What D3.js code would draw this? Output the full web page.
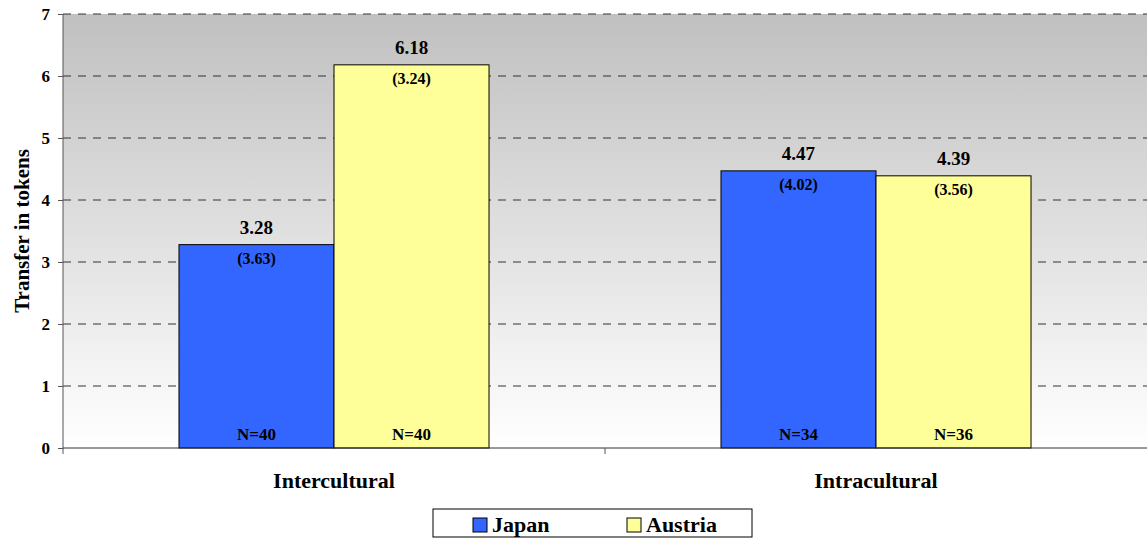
<!DOCTYPE html>
<html>
<head>
<meta charset="utf-8">
<script src="https://cdn.jsdelivr.net/npm/d3@7"></script>
<style>
  body { margin: 0; background: #fff; }
  text { font-family: "Liberation Serif", "Times New Roman", serif; font-weight: bold; fill: #000; }
</style>
</head>
<body>
<svg id="chart" width="1147" height="541"></svg>
<script>
// data
const categories = ["Intercultural", "Intracultural"];
const seriesNames = ["Japan", "Austria"];
const means = { Japan: [3.28, 4.47], Austria: [6.18, 4.39] };
const stdDevs = { Japan: [3.63, 4.02], Austria: [3.24, 3.56] };
const counts = { Japan: [40, 34], Austria: [40, 36] };
const yTicks = [0, 1, 2, 3, 4, 5, 6, 7];
const colors = { Japan: "#3366ff", Austria: "#ffff99" };

const margin = { top: 14, right: 0, bottom: 93, left: 63 };
const W = 1147, H = 541;
const width = W - margin.left - margin.right;
const height = H - margin.top - margin.bottom;

const svg = d3.select("#chart");

// background gradient
const defs = svg.append("defs");
const grad = defs.append("linearGradient").attr("id", "bg")
  .attr("x1", 0).attr("y1", 0).attr("x2", 0).attr("y2", 1);
grad.append("stop").attr("offset", "0%").attr("stop-color", "#c0c0c0");
grad.append("stop").attr("offset", "100%").attr("stop-color", "#ffffff");

const chart = svg.append("g").attr("transform", `translate(${margin.left},${margin.top})`);

chart.append("rect").attr("width", width).attr("height", height).attr("fill", "url(#bg)");

const y = d3.scaleLinear().domain([0, 7]).range([height, 0]);
const x0 = d3.scaleBand().domain(categories).range([0, width]).paddingInner(0).paddingOuter(0);
const groupW = x0.bandwidth() * 0.572;
const x1 = d3.scaleBand().domain(seriesNames)
  .range([(x0.bandwidth() - groupW) / 2, (x0.bandwidth() + groupW) / 2]);

// gridlines
chart.append("g").selectAll("line").data(yTicks.filter(d => d > 0)).join("line")
  .attr("x1", 0).attr("x2", width)
  .attr("y1", d => y(d)).attr("y2", d => y(d))
  .attr("stroke", "#333").attr("stroke-width", 1).attr("stroke-dasharray", "8,7");

// rows of bars
const rows = [];
categories.forEach((c, i) => {
  seriesNames.forEach(s => {
    rows.push({ cat: c, series: s, mean: means[s][i], sd: stdDevs[s][i], n: counts[s][i] });
  });
});

const bars = chart.append("g");
bars.selectAll("rect").data(rows).join("rect")
  .attr("x", d => x0(d.cat) + x1(d.series))
  .attr("y", d => y(d.mean))
  .attr("width", x1.bandwidth())
  .attr("height", d => height - y(d.mean))
  .attr("fill", d => colors[d.series])
  .attr("stroke", "#000").attr("stroke-width", 1);

const cx = d => x0(d.cat) + x1(d.series) + x1.bandwidth() / 2;

bars.selectAll(".mean").data(rows).join("text")
  .attr("class", "mean")
  .attr("x", cx).attr("y", d => y(d.mean) - 11)
  .attr("text-anchor", "middle").attr("font-size", 19)
  .text(d => d.mean.toFixed(2));

bars.selectAll(".sd").data(rows).join("text")
  .attr("class", "sd")
  .attr("x", cx).attr("y", d => y(d.mean) + 19)
  .attr("text-anchor", "middle").attr("font-size", 16)
  .text(d => `(${d.sd.toFixed(2)})`);

bars.selectAll(".n").data(rows).join("text")
  .attr("class", "n")
  .attr("x", cx).attr("y", height - 8)
  .attr("text-anchor", "middle").attr("font-size", 17)
  .text(d => `N=${d.n}`);

// axes
const yAxis = chart.append("g")
  .call(d3.axisLeft(y).tickValues(yTicks).tickFormat(d3.format("d")).tickSize(5).tickPadding(8));
yAxis.select(".domain").attr("stroke", "#555").attr("d", `M0,${height + 6}V0`);
yAxis.selectAll(".tick line").attr("stroke", "#555");
yAxis.selectAll(".tick text").attr("font-size", 17).attr("font-family", null);

const xAxis = chart.append("g").attr("transform", `translate(0,${height})`)
  .call(d3.axisBottom(x0).tickSize(0).tickPadding(24));
xAxis.select(".domain").attr("stroke", "#333").attr("d", `M0,0H${width}`);
xAxis.selectAll(".tick text").attr("font-size", 22).attr("font-family", null);
xAxis.append("line").attr("x1", width / 2).attr("x2", width / 2).attr("y1", 0).attr("y2", 6).attr("stroke", "#555");

// y title
svg.append("text")
  .attr("transform", `translate(29,${margin.top + height / 2}) rotate(-90)`)
  .attr("text-anchor", "middle").attr("font-size", 21)
  .text("Transfer in tokens");

// legend
const legend = svg.append("g").attr("transform", "translate(433,509)");
legend.append("rect").attr("width", 319).attr("height", 28)
  .attr("fill", "#fff").attr("stroke", "#000").attr("stroke-width", 1);
const legX = [40, 194];
seriesNames.forEach((s, i) => {
  const g = legend.append("g").attr("transform", `translate(${legX[i]},9)`);
  g.append("rect").attr("width", 14).attr("height", 14)
    .attr("fill", colors[s]).attr("stroke", "#000");
  g.append("text").attr("x", 19).attr("y", 14).attr("font-size", 22).text(s);
});
</script>
</body>
</html>
